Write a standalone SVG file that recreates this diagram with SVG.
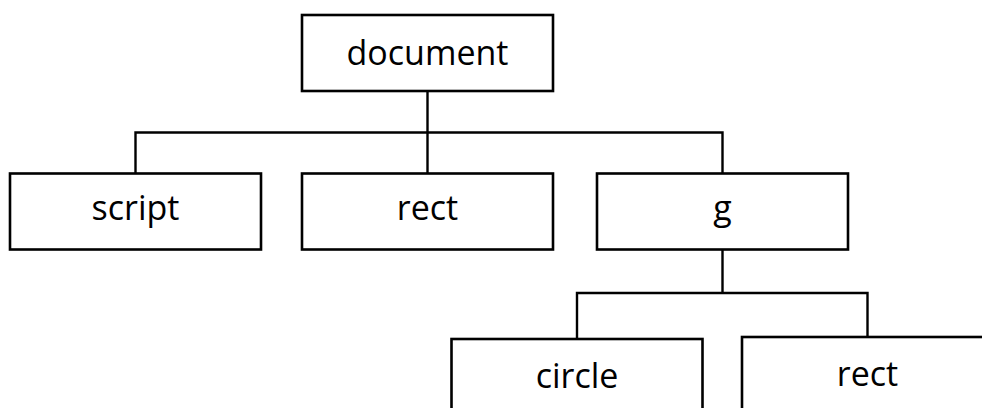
<svg xmlns="http://www.w3.org/2000/svg" width="982" height="408" viewBox="0 0 982 408">
<style>
.box{fill:#fff;stroke:#000;stroke-width:2.6}
.lbl{font-family:"Open Sans","Noto Sans",sans-serif;font-size:34px;fill:#000;text-anchor:middle}
.con{fill:none;stroke:#000;stroke-width:2.4}
</style>
<rect width="982" height="408" fill="#fff"/>
<g id="connectors">
<path class="con" d="M427.5 91 V132.5 M135.5 173.5 V132.5 H722.5 V173.5 M427.5 132.5 V173.5"/>
<path class="con" d="M722.5 249.5 V293 M577 339 V293 H867.5 V337"/>
</g>
<g id="document"><rect class="box" x="302" y="15" width="251" height="76"/><text class="lbl" x="427.5" y="64.5">document</text></g>
<g id="script"><rect class="box" x="10" y="173.5" width="251" height="76"/><text class="lbl" x="135.5" y="220">script</text></g>
<g id="rect1"><rect class="box" x="302" y="173.5" width="251" height="76"/><text class="lbl" x="427.5" y="220">rect</text></g>
<g id="g"><rect class="box" x="597" y="173.5" width="251" height="76"/><text class="lbl" x="722.5" y="220">g</text></g>
<g id="circle"><rect class="box" x="451.5" y="339" width="251" height="76"/><text class="lbl" x="577" y="388">circle</text></g>
<g id="rect2"><rect class="box" x="742" y="337" width="251" height="76"/><text class="lbl" x="867.5" y="386">rect</text></g>
</svg>
